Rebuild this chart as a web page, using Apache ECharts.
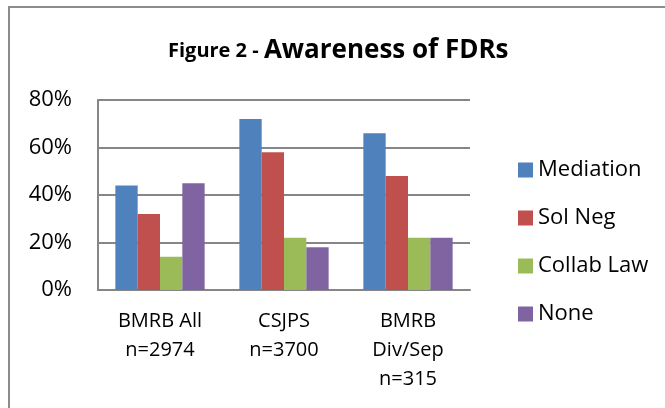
<!DOCTYPE html>
<html><head><meta charset="utf-8">
<script src="https://cdn.jsdelivr.net/npm/echarts@6/dist/echarts.min.js"></script>
<style>html,body{margin:0;padding:0;background:#fff}#c{width:665px;height:408px}</style>
</head><body><div id="c"></div>
<script>
const categories = ['BMRB All\nn=2974', 'CSJPS\nn=3700', 'BMRB\nDiv/Sep\nn=315'];
const seriesNames = ['Mediation', 'Sol Neg', 'Collab Law', 'None'];
const mediation = [44, 72, 66];
const solNeg = [32, 58, 48];
const collabLaw = [14, 22, 22];
const none = [45, 18, 22];
const yTicks = [0, 20, 40, 60, 80];
const colors = ['#4F81BD', '#C0504D', '#9BBB59', '#8064A2'];
const values = [mediation, solNeg, collabLaw, none];
const font = '"Open Sans", Lato, sans-serif';

const chart = echarts.init(document.getElementById('c'), null, {renderer: 'canvas'});
chart.setOption({
  animation: false,
  backgroundColor: '#fff',
  graphic: [{type: 'rect', shape: {x: 9, y: 7, width: 700, height: 500},
    style: {fill: 'none', stroke: '#8c8c8c', lineWidth: 2}, silent: true}],
  title: {
    text: '{a|Figure 2 - }{b|Awareness of FDRs}',
    left: 163, top: 33,
    textStyle: {rich: {
      a: {fontFamily: font, fontWeight: 'bold', fontSize: 20, color: '#000'},
      b: {fontFamily: font, fontWeight: 'bold', fontSize: 26, color: '#000'}
    }}
  },
  legend: {
    orient: 'vertical', left: 513, top: 153, itemWidth: 15, itemHeight: 15, itemGap: 24,
    icon: 'rect',
    textStyle: {fontFamily: font, fontSize: 22, color: '#000', lineHeight: 24, padding: [0,0,0,0]},
    data: seriesNames
  },
  grid: {left: 98, right: 195, top: 100, bottom: 118, containLabel: false},
  xAxis: {
    type: 'category', data: categories,
    axisLine: {lineStyle: {color: '#868686', width: 2}},
    axisTick: {show: false},
    axisLabel: {fontFamily: font, fontSize: 20, color: '#000', lineHeight: 29, margin: 17, interval: 0}
  },
  yAxis: {
    type: 'value', min: yTicks[0], max: yTicks[yTicks.length - 1], interval: 20,
    axisLine: {show: true, lineStyle: {color: '#868686', width: 2}},
    axisTick: {show: false},
    splitLine: {lineStyle: {color: '#868686', width: 2}},
    axisLabel: {fontFamily: font, fontSize: 22, color: '#000', margin: 26, formatter: '{value}%'}
  },
  series: seriesNames.map((n, i) => ({
    name: n, type: 'bar', data: values[i],
    itemStyle: {color: colors[i]},
    barGap: '0%', barCategoryGap: '28%'
  }))
});
</script></body></html>
